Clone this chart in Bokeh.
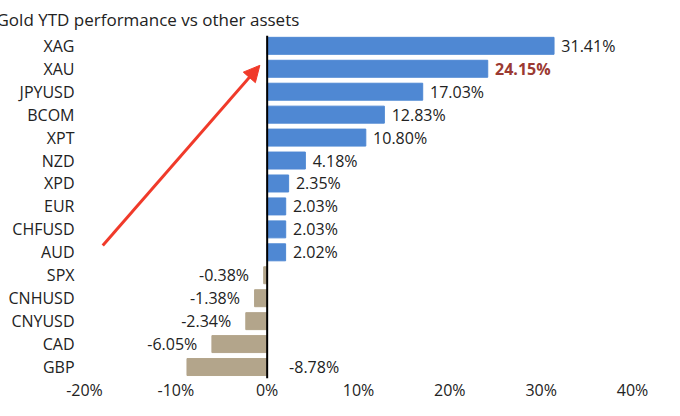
from bokeh.plotting import figure
from bokeh.models import Range1d, FixedTicker, Arrow, NormalHead, Span, ColumnDataSource
from bokeh.core.properties import value
from bokeh.embed import file_html
from bokeh.resources import INLINE

assets = ["XAG","XAU","JPYUSD","BCOM","XPT","NZD","XPD","EUR","CHFUSD","AUD","SPX","CNHUSD","CNYUSD","CAD","GBP"]
perf = [31.41,24.15,17.03,12.83,10.80,4.18,2.35,2.03,2.03,2.02,-0.38,-1.38,-2.34,-6.05,-8.78]
xticks = [-20,-10,0,10,20,30,40]

ys = list(range(len(assets)))
colors = ["#4f88d3" if v >= 0 else "#b3a58b" for v in perf]

p = figure(width=664, height=400, frame_width=548, frame_height=343,
           output_backend="svg", toolbar_location=None,
           x_range=Range1d(-20, 40), y_range=Range1d(14.5, -0.45),
           min_border_left=84, min_border_right=24, min_border_top=0, min_border_bottom=0)
p.title.text = "Gold YTD performance vs other assets"
p.title.text_font = "Open Sans"
p.title.text_font_size = "17px"
p.title.text_font_style = "normal"
p.title.text_color = "#222222"
p.title.offset = -88
p.outline_line_color = None
p.grid.visible = False

p.hbar(y=ys, left=0, right=perf, height=0.74, color=colors)
p.add_layout(Span(location=0, dimension="height", line_color="black", line_width=2))

lx, ly, lt, la, lc, lw = [], [], [], [], [], []
for i, v in enumerate(perf):
    s = f"{v:.2f}%"
    if v >= 0:
        lx.append(v + 0.8); la.append("left")
    elif assets[i] == "GBP":
        lx.append(2.4); la.append("left")
    else:
        lx.append(v - 1.6); la.append("right")
    ly.append(i); lt.append(s)
    lc.append("#9b3a32" if assets[i] == "XAU" else "#222222")
    lw.append("bold" if assets[i] == "XAU" else "normal")
src = ColumnDataSource(dict(x=lx, y=ly, t=lt, a=la, c=lc, w=lw))
p.text(x="x", y="y", text="t", text_align="a", text_color="c", text_font_style="w",
       text_baseline="middle", text_font=value("Open Sans"), text_font_size="16px", source=src)

p.add_layout(Arrow(end=NormalHead(size=16, fill_color="#f03a2a", line_color="#f03a2a"),
                   x_start=-18, y_start=8.7, x_end=-0.8, y_end=0.85,
                   line_color="#f03a2a", line_width=3))

p.xaxis.ticker = FixedTicker(ticks=xticks)
p.xaxis.major_label_overrides = {t: f"{t}%" for t in xticks}
p.xaxis.axis_line_color = None
p.xaxis.major_tick_line_color = None
p.xaxis.minor_tick_line_color = None
p.xaxis.major_label_text_font = "Open Sans"
p.xaxis.major_label_text_font_size = "16px"
p.xaxis.major_label_text_color = "#222222"
p.xaxis.major_label_standoff = -6

p.yaxis.ticker = FixedTicker(ticks=ys)
p.yaxis.major_label_overrides = {i: a for i, a in enumerate(assets)}
p.yaxis.axis_line_color = None
p.yaxis.major_tick_line_color = None
p.yaxis.minor_tick_line_color = None
p.yaxis.major_label_text_font = "Open Sans"
p.yaxis.major_label_text_font_size = "16px"
p.yaxis.major_label_text_color = "#222222"
p.yaxis.major_label_standoff = 4

open("out.html", "w").write(file_html(p, INLINE))
